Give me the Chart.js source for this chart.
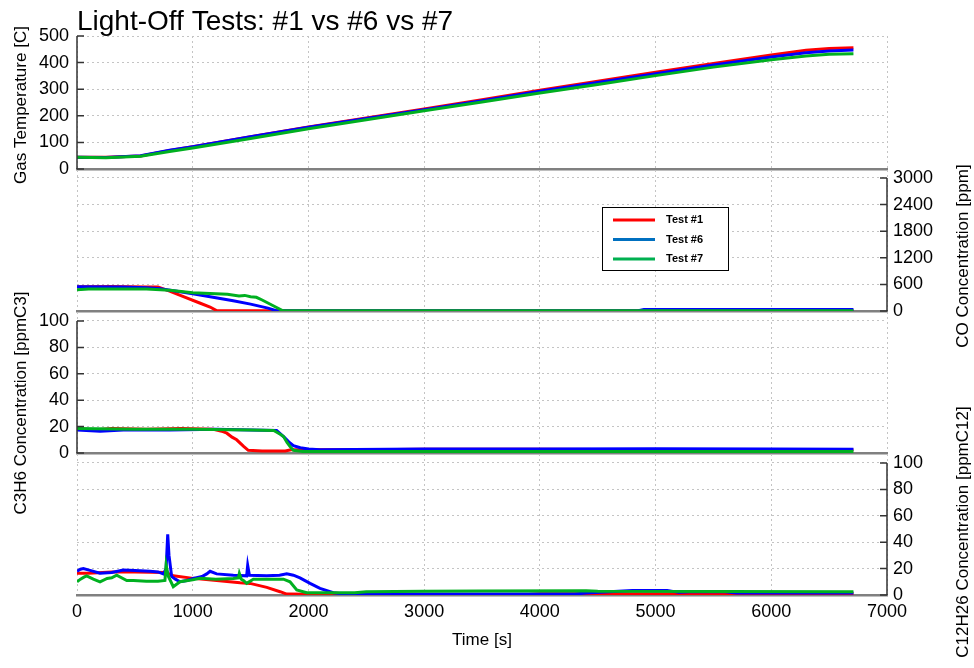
<!DOCTYPE html>
<html>
<head>
<meta charset="utf-8">
<title>Light-Off Tests</title>
<script src="https://cdn.jsdelivr.net/npm/chart.js@4.4.0/dist/chart.umd.min.js"></script>
<style>
  html, body { margin: 0; padding: 0; background: #fff; }
  #wrap { position: relative; width: 974px; height: 668px; }
  #wrap canvas { position: absolute; left: 0; top: 0; }
</style>
</head>
<body>
<div id="wrap">
  <canvas id="tempChart" width="974" height="668"></canvas>
  <canvas id="coChart" width="974" height="668"></canvas>
  <canvas id="c3h6Chart" width="974" height="668"></canvas>
  <canvas id="c12Chart" width="974" height="668"></canvas>
</div>
<script>
// Series info
const SERIES_NAMES = ["Test #1", "Test #6", "Test #7"];
const LINE_COLORS = ["#ff0000", "#0000ff", "#00b020"];
const LEGEND_COLORS = ["#ff0000", "#0070c0", "#00b050"];

// Tick labels
const TIME_TICKS = [0, 1000, 2000, 3000, 4000, 5000, 6000, 7000];
const TEMP_TICKS = [0, 100, 200, 300, 400, 500];
const CO_TICKS = [0, 600, 1200, 1800, 2400, 3000];
const HC_TICKS = [0, 20, 40, 60, 80, 100];

// Gas temperature [C]
const tempTime = [0, 250, 550, 800, 1000, 1500, 2000, 2500, 3000, 3500, 4000, 4500, 5000, 5500, 6000, 6300, 6500, 6710];
const tempTest1 = [44, 44, 49, 70, 84, 121, 158, 192, 226, 260, 296, 330, 364, 397, 429, 446, 453, 456];
const tempTest6 = [44, 43, 50, 71, 84, 121, 157, 190, 223, 257, 292, 325, 358, 391, 421, 437, 444, 447];
const tempTest7 = [44, 42, 48, 66, 79, 115, 151, 185, 219, 252, 286, 318, 351, 383, 411, 425, 431, 433];

// CO concentration [ppm], [time, value]
const coTest1 = [[0, 545], [300, 550], [600, 540], [700, 540], [800, 450], [920, 323], [1060, 180], [1150, 90], [1210, 4], [6710, 4]];
const coTest6 = [[0, 545], [400, 540], [600, 525], [720, 500], [850, 450], [1000, 390], [1200, 300], [1350, 230], [1500, 155], [1650, 65], [1730, 4], [4850, 4], [4900, 35], [6710, 35]];
const coTest7 = [[0, 480], [100, 495], [300, 495], [600, 495], [800, 470], [1000, 413], [1300, 377], [1400, 339], [1450, 352], [1500, 323], [1550, 309], [1600, 248], [1700, 113], [1780, 4], [6710, 4]];

// C3H6 concentration [ppmC3], [time, value]
const c3Test1 = [[0, 18.5], [150, 17.5], [300, 18.5], [600, 18], [900, 18.5], [1180, 18], [1250, 16.5], [1295, 15], [1340, 12], [1380, 10], [1440, 5], [1480, 2], [1600, 1.5], [1800, 1.5], [1850, 2.5], [2500, 2.5], [3000, 2.8], [4000, 2.8], [5000, 2.5], [6000, 2.7], [6710, 2.3]];
const c3Test6 = [[0, 17.5], [200, 16.5], [400, 17.5], [800, 17.5], [1200, 18], [1500, 17.5], [1725, 17], [1790, 12], [1830, 8.5], [1870, 5.5], [1930, 4], [2000, 3], [2100, 2.5], [3000, 3], [4000, 3], [5000, 3.2], [6000, 3], [6710, 2.8]];
const c3Test7 = [[0, 18.5], [500, 18], [1000, 18], [1500, 17.5], [1700, 17], [1760, 14], [1785, 12.5], [1815, 8], [1840, 5], [1870, 2], [1950, 1.2], [6710, 1.2]];

// C12H26 concentration [ppmC12], [time, value]
const c12Test1 = [[0, 16.5], [100, 16.5], [300, 17.5], [500, 17.5], [770, 17], [832, 14.5], [1005, 12.6], [1207, 11], [1409, 9.3], [1495, 8.8], [1640, 5.8], [1755, 2.5], [1813, 0.7], [2300, 0.3], [3900, 0.3], [4000, 1], [6200, 1], [6710, 1]];
const c12Test6 = [[0, 18], [30, 19.5], [55, 20], [120, 18.5], [199, 16.5], [300, 17], [400, 19], [500, 18.5], [631, 18], [700, 17.5], [746, 16], [770, 20], [784, 46], [795, 30], [818, 14], [850, 12], [890, 10], [950, 11], [1005, 12.5], [1080, 14], [1121, 16], [1150, 18], [1207, 16], [1351, 15], [1466, 14.5], [1475, 22.5], [1490, 15], [1640, 14.5], [1750, 15], [1813, 16], [1870, 15], [1927, 13], [2014, 8.8], [2100, 5], [2215, 1.7], [2302, 0.7], [4300, 0.7], [4400, 1.5], [4800, 3.5], [5100, 3.5], [5200, 2], [5300, 2.5], [5600, 2.5], [5700, 1.5], [6100, 1.5], [6710, 1.5]];
const c12Test7 = [[0, 10], [30, 12], [60, 13.5], [83, 14.5], [141, 12], [199, 10], [260, 12.5], [300, 13], [343, 15], [430, 11], [487, 11], [600, 10.5], [700, 10.5], [760, 11], [770, 22.6], [790, 14], [832, 6.3], [890, 10], [1000, 11.5], [1063, 12.6], [1200, 12], [1351, 12.5], [1395, 13], [1403, 16.4], [1420, 12], [1438, 11], [1466, 8.8], [1524, 12], [1650, 12], [1784, 12], [1841, 10], [1899, 3.8], [1985, 1.7], [2400, 1.7], [2500, 2.5], [3000, 2.8], [3500, 3], [4400, 3.3], [4500, 2.8], [6710, 2.5]];

const FONT = '"Liberation Sans", Arial, sans-serif';
const GRID_COLOR = "#c4c4c4";
const AXIS_COLOR = "#333333";

const fromArrays = (t, v) => t.map((x, i) => ({ x, y: v[i] }));
const fromPairs = (arr) => arr.map(([x, y]) => ({ x, y }));

// Draws the partial axis line, inward tick marks and the rotated axis title
const panelAxisPlugin = {
  id: "panelAxis",
  afterDraw(chart, args, opts) {
    const { ctx, chartArea, scales } = chart;
    const y = scales.y;
    const xPix = opts.side === "left" ? chartArea.left : chartArea.right;
    const dir = opts.side === "left" ? 1 : -1;
    const top = y.getPixelForValue(opts.ticks[opts.ticks.length - 1]);
    const bottom = y.getPixelForValue(0);
    ctx.save();
    ctx.strokeStyle = AXIS_COLOR;
    ctx.lineWidth = 1.5;
    ctx.beginPath();
    ctx.moveTo(xPix, top);
    ctx.lineTo(xPix, bottom);
    opts.ticks.forEach((v) => {
      const p = y.getPixelForValue(v);
      ctx.moveTo(xPix, p);
      ctx.lineTo(xPix + dir * 7, p);
    });
    ctx.stroke();
    ctx.translate(opts.titleX, opts.titleY);
    ctx.rotate(-Math.PI / 2);
    ctx.font = "17px " + FONT;
    ctx.fillStyle = "#000";
    ctx.textAlign = "center";
    ctx.textBaseline = "middle";
    ctx.fillText(opts.title, 0, 0);
    ctx.restore();
  },
};

// Boxed legend inside the CO panel
const boxLegendPlugin = {
  id: "boxLegend",
  afterDraw(chart, args, opts) {
    if (!opts.show) return;
    const { ctx } = chart;
    ctx.save();
    ctx.fillStyle = "#fff";
    ctx.fillRect(opts.x, opts.y, opts.w, opts.h);
    ctx.strokeStyle = "#000";
    ctx.lineWidth = 1;
    ctx.strokeRect(opts.x + 0.5, opts.y + 0.5, opts.w, opts.h);
    ctx.font = "bold 11px " + FONT;
    ctx.textBaseline = "middle";
    ctx.textAlign = "left";
    SERIES_NAMES.forEach((name, i) => {
      const rowY = opts.y + 13 + i * 19.5;
      ctx.strokeStyle = LEGEND_COLORS[i];
      ctx.lineWidth = 3;
      ctx.beginPath();
      ctx.moveTo(opts.x + 11, rowY);
      ctx.lineTo(opts.x + 53, rowY);
      ctx.stroke();
      ctx.fillStyle = "#000";
      ctx.fillText(name, opts.x + 64, rowY);
    });
    ctx.restore();
  },
};

const makePanel = (canvasId, cfg) =>
  new Chart(document.getElementById(canvasId), {
    type: "line",
    data: {
      datasets: cfg.series.map((pts, i) => ({
        label: SERIES_NAMES[i],
        data: pts,
        borderColor: LINE_COLORS[i],
        backgroundColor: LINE_COLORS[i],
        borderWidth: 3,
        pointRadius: 0,
        tension: 0,
        fill: false,
        order: 3 - i,
      })),
    },
    options: {
      responsive: false,
      animation: false,
      events: [],
      layout: { padding: cfg.padding },
      plugins: {
        legend: { display: false },
        tooltip: { enabled: false },
        title: cfg.title || { display: false },
        panelAxis: {
          side: cfg.side,
          ticks: cfg.yTicks,
          title: cfg.yTitle,
          titleX: cfg.titleX,
          titleY: cfg.titleY,
        },
        boxLegend: cfg.legend || { show: false },
      },
      scales: {
        x: {
          type: "linear",
          min: 0,
          max: 7000,
          afterBuildTicks: (s) => {
            s.ticks = TIME_TICKS.map((v) => ({ value: v }));
          },
          afterFit: (s) => {
            if (cfg.showTime) s.height = 73;
          },
          grid: { color: GRID_COLOR, lineWidth: 1, drawTicks: false },
          border: { display: true, color: "#808080", width: 2.5, dash: [2, 3] },
          ticks: {
            display: !!cfg.showTime,
            padding: 6,
            maxRotation: 0,
            autoSkip: false,
            color: "#000",
            font: { family: FONT, size: 18 },
            callback: (v) => String(v),
          },
          title: {
            display: !!cfg.showTime,
            text: "Time [s]",
            color: "#000",
            font: { family: FONT, size: 17 },
            padding: { top: 0, bottom: 17 },
          },
        },
        y: {
          position: cfg.side,
          min: 0,
          max: cfg.yMax,
          afterBuildTicks: (s) => {
            s.ticks = cfg.yTicks.map((v) => ({ value: v }));
          },
          afterFit: (s) => {
            s.width = cfg.side === "left" ? 77 : 87;
          },
          grid: {
            color: (c) => (c.tick && c.tick.value === 0 ? "rgba(0,0,0,0)" : GRID_COLOR),
            lineWidth: 1,
            drawTicks: false,
          },
          border: { display: false, dash: [2, 3] },
          ticks: {
            padding: cfg.side === "left" ? 8 : 6,
            autoSkip: false,
            color: "#000",
            font: { family: FONT, size: 18 },
            callback: (v) => String(v),
          },
        },
      },
    },
    plugins: [panelAxisPlugin, boxLegendPlugin],
  });

document.addEventListener("DOMContentLoaded", () => {
  // Gas temperature
  makePanel("tempChart", {
    series: [
      fromArrays(tempTime, tempTest1),
      fromArrays(tempTime, tempTest6),
      fromArrays(tempTime, tempTest7),
    ],
    side: "left",
    yMax: 500,
    yTicks: TEMP_TICKS,
    yTitle: "Gas Temperature [C]",
    titleX: 21,
    titleY: 105,
    padding: { left: 0, right: 87, top: 0, bottom: 499 },
    title: {
      display: true,
      text: "Light-Off Tests: #1 vs #6 vs #7",
      align: "start",
      fullSize: false,
      color: "#000",
      font: { family: FONT, size: 28, weight: "normal", lineHeight: 1 },
      padding: { top: 8, bottom: 0 },
    },
  });

  // CO (max leaves headroom for the gap between panels)
  makePanel("coChart", {
    series: [fromPairs(coTest1), fromPairs(coTest6), fromPairs(coTest7)],
    side: "right",
    yMax: 3180,
    yTicks: CO_TICKS,
    yTitle: "CO Concentration [ppm]",
    titleX: 963,
    titleY: 256,
    padding: { left: 77, right: 0, top: 170, bottom: 357 },
    legend: { show: true, x: 602, y: 207, w: 126, h: 63 },
  });

  // C3H6
  makePanel("c3h6Chart", {
    series: [fromPairs(c3Test1), fromPairs(c3Test6), fromPairs(c3Test7)],
    side: "left",
    yMax: 106.8,
    yTicks: HC_TICKS,
    yTitle: "C3H6 Concentration [ppmC3]",
    titleX: 21,
    titleY: 403,
    padding: { left: 0, right: 87, top: 312, bottom: 215 },
  });

  // C12H26
  makePanel("c12Chart", {
    series: [fromPairs(c12Test1), fromPairs(c12Test6), fromPairs(c12Test7)],
    side: "right",
    yMax: 106.8,
    yTicks: HC_TICKS,
    yTitle: "C12H26 Concentration [ppmC12]",
    titleX: 963,
    titleY: 532,
    padding: { left: 77, right: 0, top: 454, bottom: 0 },
    showTime: true,
  });
});
</script>
</body>
</html>
